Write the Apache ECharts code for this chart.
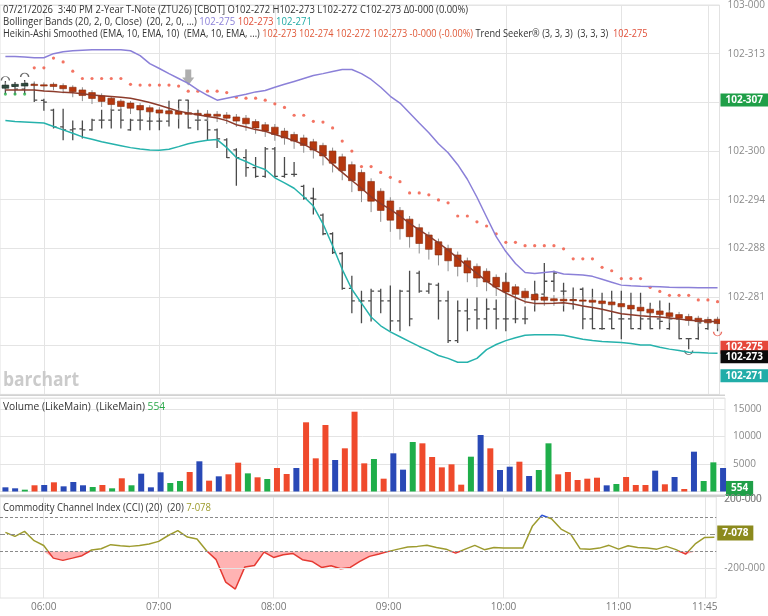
<!DOCTYPE html>
<html><head><meta charset="utf-8">
<script src="https://cdn.jsdelivr.net/npm/echarts@6/dist/echarts.min.js"></script>
<style>html,body{margin:0;padding:0;background:#fff}#c{width:768px;height:616px}</style>
</head><body><div id="c"></div>
<script>
const times = ['05:40','05:45','05:50','05:55','06:00','06:05','06:10','06:15','06:20','06:25','06:30','06:35','06:40','06:45','06:50','06:55','07:00','07:05','07:10','07:15','07:20','07:25','07:30','07:35','07:40','07:45','07:50','07:55','08:00','08:05','08:10','08:15','08:20','08:25','08:30','08:35','08:40','08:45','08:50','08:55','09:00','09:05','09:10','09:15','09:20','09:25','09:30','09:35','09:40','09:45','09:50','09:55','10:00','10:05','10:10','10:15','10:20','10:25','10:30','10:35','10:40','10:45','10:50','10:55','11:00','11:05','11:10','11:15','11:20','11:25','11:30','11:35','11:40','11:45','11:50'];
const timeTickLabels = ['06:00','07:00','08:00','09:00','10:00','11:00','11:45'];

const priceOpen = [102.9662,102.9666,102.9654,102.9674,102.9608,102.9568,102.9499,102.9487,102.9491,102.9487,
102.9527,102.9527,102.9568,102.9487,102.9527,102.9523,102.9523,102.9523,102.9564,102.9609,
102.9527,102.9527,102.9487,102.9446,102.9405,102.9373,102.9332,102.9296,102.9409,102.9296,
102.9304,102.9255,102.9206,102.9137,102.9060,102.8979,102.8836,102.8784,102.8784,102.8824,
102.8784,102.8702,102.8824,102.8898,102.8824,102.8849,102.8784,102.8621,102.8743,102.8747,
102.8710,102.8751,102.8710,102.8710,102.8710,102.8800,102.8812,102.8865,102.8824,102.8788,
102.8832,102.8710,102.8670,102.8710,102.8710,102.8710,102.8670,102.8710,102.8710,102.8670,
102.8710,102.8629,102.8629,102.8670,102.8702];
const priceHigh = [102.9686,102.9682,102.9690,102.9678,102.9613,102.9572,102.9572,102.9523,102.9523,102.9531,
102.9568,102.9572,102.9572,102.9531,102.9568,102.9564,102.9556,102.9605,102.9609,102.9609,
102.9568,102.9556,102.9491,102.9450,102.9409,102.9405,102.9373,102.9414,102.9414,102.9373,
102.9353,102.9259,102.9247,102.9141,102.9064,102.8983,102.8885,102.8824,102.8832,102.8832,
102.8845,102.8828,102.8906,102.8906,102.8857,102.8857,102.8824,102.8784,102.8792,102.8796,
102.8792,102.8788,102.8898,102.8800,102.8759,102.8865,102.8938,102.8906,102.8857,102.8837,
102.8837,102.8832,102.8816,102.8824,102.8824,102.8816,102.8816,102.8775,102.8784,102.8775,
102.8710,102.8629,102.8710,102.8706,102.8702];
const priceLow = [102.9637,102.9633,102.9637,102.9604,102.9568,102.9495,102.9446,102.9446,102.9454,102.9485,
102.9495,102.9495,102.9495,102.9485,102.9487,102.9487,102.9487,102.9503,102.9495,102.9495,
102.9487,102.9446,102.9414,102.9373,102.9259,102.9296,102.9292,102.9292,102.9292,102.9292,
102.9296,102.9202,102.9141,102.9056,102.8979,102.8832,102.8735,102.8694,102.8702,102.8735,
102.8662,102.8662,102.8682,102.8820,102.8816,102.8710,102.8613,102.8613,102.8662,102.8670,
102.8670,102.8670,102.8662,102.8694,102.8690,102.8743,102.8784,102.8824,102.8743,102.8751,
102.8670,102.8670,102.8668,102.8670,102.8629,102.8670,102.8668,102.8670,102.8670,102.8668,
102.8629,102.8588,102.8627,102.8668,102.8662];
const priceClose = [102.9666,102.9654,102.9678,102.9609,102.9601,102.9499,102.9487,102.9491,102.9487,102.9527,
102.9527,102.9568,102.9527,102.9527,102.9527,102.9523,102.9523,102.9564,102.9609,102.9495,
102.9527,102.9487,102.9450,102.9373,102.9373,102.9332,102.9296,102.9409,102.9296,102.9304,
102.9304,102.9206,102.9202,102.9060,102.8983,102.8836,102.8784,102.8784,102.8824,102.8784,
102.8702,102.8824,102.8710,102.8824,102.8853,102.8784,102.8621,102.8743,102.8710,102.8710,
102.8751,102.8710,102.8710,102.8710,102.8710,102.8812,102.8865,102.8898,102.8824,102.8788,
102.8710,102.8670,102.8670,102.8670,102.8710,102.8670,102.8710,102.8670,102.8700,102.8710,
102.8629,102.8629,102.8694,102.8706,102.8694];

const haOpen = [102.9658,102.9665,102.9667,102.9674,102.9672,102.9674,102.9669,102.9662,102.9651,102.9640,
102.9626,102.9617,102.9605,102.9597,102.9587,102.9578,102.9569,102.9565,102.9563,102.9557,
102.9555,102.9552,102.9551,102.9548,102.9540,102.9535,102.9521,102.9508,102.9498,102.9482,
102.9468,102.9454,102.9438,102.9423,102.9400,102.9376,102.9344,102.9312,102.9275,102.9235,
102.9195,102.9156,102.9120,102.9085,102.9055,102.9027,102.9000,102.8973,102.8949,102.8926,
102.8906,102.8881,102.8861,102.8842,102.8824,102.8811,102.8800,102.8793,102.8791,102.8790,
102.8788,102.8787,102.8784,102.8780,102.8773,102.8766,102.8758,102.8750,102.8743,102.8735,
102.8728,102.8720,102.8713,102.8708,102.8709];
const haHigh = [102.9682,102.9682,102.9686,102.9686,102.9682,102.9682,102.9678,102.9670,102.9662,102.9650,
102.9637,102.9625,102.9613,102.9605,102.9597,102.9588,102.9580,102.9580,102.9576,102.9572,
102.9568,102.9568,102.9564,102.9560,102.9552,102.9548,102.9531,102.9519,102.9511,102.9495,
102.9479,102.9467,102.9450,102.9434,102.9414,102.9389,102.9357,102.9324,102.9288,102.9247,
102.9210,102.9170,102.9133,102.9101,102.9068,102.9040,102.9015,102.8987,102.8962,102.8938,
102.8918,102.8893,102.8873,102.8853,102.8837,102.8824,102.8816,102.8808,102.8808,102.8804,
102.8804,102.8800,102.8796,102.8792,102.8788,102.8780,102.8772,102.8764,102.8755,102.8747,
102.8739,102.8731,102.8723,102.8719,102.8719];
const haLow = [102.9650,102.9654,102.9658,102.9654,102.9645,102.9650,102.9637,102.9621,102.9605,102.9593,
102.9581,102.9568,102.9560,102.9552,102.9548,102.9540,102.9536,102.9536,102.9531,102.9531,
102.9527,102.9523,102.9519,102.9511,102.9499,102.9483,102.9471,102.9458,102.9442,102.9426,
102.9409,102.9393,102.9369,102.9341,102.9312,102.9280,102.9231,102.9190,102.9149,102.9109,
102.9068,102.9036,102.9003,102.8979,102.8954,102.8930,102.8906,102.8885,102.8861,102.8841,
102.8824,102.8804,102.8788,102.8784,102.8772,102.8764,102.8764,102.8764,102.8764,102.8764,
102.8760,102.8755,102.8747,102.8743,102.8735,102.8727,102.8719,102.8711,102.8702,102.8694,
102.8690,102.8682,102.8678,102.8674,102.8670];
const haClose = [102.9671,102.9674,102.9678,102.9672,102.9670,102.9665,102.9656,102.9644,102.9628,102.9616,
102.9604,102.9591,102.9583,102.9576,102.9569,102.9561,102.9556,102.9553,102.9551,102.9551,
102.9548,102.9544,102.9543,102.9535,102.9523,102.9512,102.9495,102.9482,102.9468,102.9454,
102.9441,102.9423,102.9404,102.9380,102.9350,102.9319,102.9278,102.9237,102.9194,102.9156,
102.9116,102.9081,102.9048,102.9020,102.8996,102.8973,102.8949,102.8926,102.8899,102.8878,
102.8862,102.8841,102.8821,102.8811,102.8797,102.8788,102.8787,102.8785,102.8784,102.8786,
102.8784,102.8779,102.8773,102.8768,102.8760,102.8751,102.8743,102.8735,102.8728,102.8720,
102.8713,102.8705,102.8699,102.8694,102.8691];

const bbUpper = [102.9788,102.9788,102.9786,102.9783,102.9783,102.9800,102.9808,102.9812,102.9814,102.9816,
102.9816,102.9816,102.9816,102.9812,102.9792,102.9759,102.9739,102.9718,102.9698,102.9678,
102.9651,102.9629,102.9609,102.9617,102.9625,102.9633,102.9643,102.9649,102.9662,102.9674,
102.9686,102.9698,102.9710,102.9718,102.9727,102.9735,102.9735,102.9718,102.9694,102.9662,
102.9625,102.9597,102.9556,102.9515,102.9475,102.9430,102.9393,102.9344,102.9284,102.9210,
102.9129,102.9048,102.8987,102.8938,102.8901,102.8897,102.8901,102.8905,102.8895,102.8893,
102.8891,102.8885,102.8873,102.8861,102.8849,102.8846,102.8844,102.8843,102.8842,102.8840,
102.8839,102.8839,102.8838,102.8838,102.8838];
const bbMiddle = [102.9651,102.9651,102.9651,102.9651,102.9647,102.9645,102.9641,102.9639,102.9635,102.9630,
102.9627,102.9624,102.9621,102.9617,102.9609,102.9599,102.9588,102.9576,102.9564,102.9556,
102.9549,102.9542,102.9536,102.9525,102.9508,102.9499,102.9488,102.9481,102.9468,102.9456,
102.9442,102.9427,102.9407,102.9385,102.9346,102.9312,102.9279,102.9247,102.9212,102.9184,
102.9160,102.9133,102.9103,102.9076,102.9050,102.9023,102.8993,102.8960,102.8928,102.8897,
102.8865,102.8838,102.8816,102.8798,102.8781,102.8774,102.8774,102.8775,102.8777,102.8771,
102.8763,102.8757,102.8750,102.8741,102.8731,102.8727,102.8723,102.8720,102.8718,102.8714,
102.8710,102.8705,102.8703,102.8701,102.8699];
const bbLower = [102.9525,102.9521,102.9519,102.9517,102.9515,102.9501,102.9487,102.9473,102.9458,102.9448,
102.9438,102.9430,102.9422,102.9414,102.9408,102.9404,102.9403,102.9407,102.9418,102.9430,
102.9438,102.9444,102.9447,102.9414,102.9373,102.9357,102.9338,102.9324,102.9290,102.9269,
102.9247,102.9212,102.9174,102.9101,102.9011,102.8914,102.8832,102.8775,102.8718,102.8682,
102.8657,102.8637,102.8617,102.8597,102.8580,102.8560,102.8548,102.8532,102.8532,102.8548,
102.8584,102.8605,102.8621,102.8633,102.8643,102.8645,102.8645,102.8645,102.8643,102.8635,
102.8627,102.8621,102.8617,102.8615,102.8613,102.8609,102.8603,102.8603,102.8594,102.8586,
102.8580,102.8573,102.8572,102.8570,102.8569];

const trendStop = [102.9634,102.9634,102.9634,102.9742,102.9742,102.9782,102.9766,102.9728,102.9698,102.9698,
102.9698,102.9698,102.9698,102.9674,102.9671,102.9671,102.9671,102.9671,102.9667,102.9646,
102.9646,102.9646,102.9646,102.9640,102.9621,102.9617,102.9617,102.9609,102.9594,102.9579,
102.9547,102.9547,102.9522,102.9519,102.9495,102.9441,102.9400,102.9336,102.9336,102.9312,
102.9292,102.9274,102.9228,102.9228,102.9220,102.9199,102.9187,102.9133,102.9133,102.9109,
102.9092,102.9060,102.9025,102.9025,102.9011,102.9011,102.9011,102.9011,102.8998,102.8957,
102.8957,102.8957,102.8922,102.8908,102.8876,102.8876,102.8876,102.8840,102.8823,102.8807,
102.8807,102.8807,102.8788,102.8788,102.8781];
const trendLongBars = 3;

const signalBar = [19];
const signalPrice = [102.9702];
const pivotHighBar = [0, 2];
const pivotHighPrice = [102.9698, 102.9712];
const pivotLowBar = [71, 74];
const pivotLowPrice = [102.8572, 102.8649];

const volume = [760,580,330,1130,1180,1670,940,1730,1130,820,1180,580,2400,1130,3240,760,3490,1550,1910,3550,
5490,1970,2760,3130,5240,3300,2580,2270,4270,3180,4270,12580,6030,12090,5730,7850,14510,5120,5910,2330,
6940,3970,9000,8760,6270,4390,4940,1240,6330,10270,7850,3910,4510,5420,2820,3910,8760,3120,3550,2090,
2330,2510,1120,1360,2640,1180,1180,3790,1310,2640,450,7240,1910,5300,4270];
const volumeKind = ['b','b','g','r','b','r','b','b','b','g','r','g','r','g','b','b','b','g','g','r',
'b','r','b','r','r','g','r','g','r','r','b','r','r','r','b','r','r','r','g','r',
'b','b','g','r','r','r','r','r','g','b','r','b','b','r','b','g','g','r','r','r',
'r','r','b','g','r','r','r','b','r','b','r','b','g','g','b'];

const cci = [10,-13,16,-38,-66,-139,-152,-139,-125,-92,
-85,-61,-67,-71,-66,-57,-42,-8,20,-17,
-28,-96,-148,-278,-318,-190,-182,-104,-135,-119,
-112,-148,-158,-193,-183,-201,-193,-158,-129,-115,
-100,-87,-75,-71,-65,-77,-87,-110,-87,-65,
-90,-77,-81,-81,-81,45,109,89,29,0,
-85,-87,-81,-65,-87,-67,-77,-81,-87,-71,
-90,-116,-57,-19,-18];
const cciLevels = [100, 0, -100, -200];
const cciTickValues = [-200, 200];

const tagGreen = 102.9609375, tagTrend = 102.859375, tagClose = 102.85546875, tagLower = 102.84765625;
const volumeLast = 554;
const cciLast = 7.078;

const FONT = '"Open Sans",sans-serif';

function fmt32(v){
  const neg = v < 0; v = Math.abs(v);
  const ip = Math.floor(v + 1e-9);
  const f = (v - ip) * 32;
  const whole = Math.floor(f + 1e-7);
  const dec = Math.floor((f - whole) * 10 + 1e-5);
  return (neg ? '-' : '') + ip + '-' + String(whole).padStart(2, '0') + dec;
}

const chart = echarts.init(document.getElementById('c'));
const tickIdx = timeTickLabels.map(t => times.indexOf(t));
const XMIN = -0.56, XMAX = 74.2;
const volColors = {r:'#ef4a2c', b:'#2949b6', g:'#1fae4a'};

function xAxisFor(gi, showLabel){
  return {type:'value', gridIndex:gi, min:XMIN, max:XMAX,
    axisLine:{show:false}, axisTick:{show:false, customValues:tickIdx},
    axisLabel:{show:showLabel, customValues:tickIdx, formatter:v => times[Math.round(v)],
      color:'#777', fontSize:10, fontFamily:FONT, margin:4},
    splitLine:{show:true, lineStyle:{color:'#e4e4e4', width:1}}};
}

function renderOHLC(params, api){
  const i = api.value(0);
  const o = api.coord([i, api.value(1)]), h = api.coord([i, api.value(2)]);
  const l = api.coord([i, api.value(3)]), c = api.coord([i, api.value(4)]);
  const x = o[0], w = 3;
  const mk = () => ({stroke:'#4a4a4a', lineWidth:1.3});
  return {type:'group', children:[
    {type:'line', shape:{x1:x, y1:h[1]-0.5, x2:x, y2:l[1]+0.5}, style:mk()},
    {type:'line', shape:{x1:x-w, y1:o[1], x2:x, y2:o[1]}, style:mk()},
    {type:'line', shape:{x1:x, y1:c[1], x2:x+w, y2:c[1]}, style:mk()}
  ]};
}
function renderHA(params, api){
  const i = api.value(0), O = api.value(1), C = api.value(4);
  const o = api.coord([i, O]), h = api.coord([i, api.value(2)]);
  const l = api.coord([i, api.value(3)]), c = api.coord([i, C]);
  const bw = api.size([1, 0])[0] * 0.7, x = o[0];
  const top = Math.min(o[1], c[1]), ht = Math.max(1.2, Math.abs(o[1] - c[1]));
  const bear = C < O;
  return {type:'group', children:[
    {type:'line', shape:{x1:x, y1:h[1], x2:x, y2:l[1]}, style:{stroke:'#8c8c8c', lineWidth:1}},
    {type:'rect', shape:{x:x-bw/2, y:top, width:bw, height:ht},
      style:{fill: bear ? '#b5380f' : '#2f4a3e', stroke: bear ? '#862a0c' : '#1f2f28', lineWidth:0.6}}
  ]};
}

const idx = times.map((t, i) => i);
const tagLabel = (bg) => ({show:true, position:'end', distance:1, color:'#fff', fontWeight:'bold',
  fontSize:10, fontFamily:FONT, backgroundColor:bg, padding:[2,5,1,5]});
const hiddenLine = {width:0, color:'rgba(0,0,0,0)'};
const txt = (left, top, sx, style) => ({type:'text', z:60, left:left, top:top, scaleX:sx, silent:true, style:style});

const option = {
  backgroundColor:'#fff',
  animation:false,
  grid:[
    {left:0, right:43, top:1, height:393.4, show:true, borderColor:'#e2e2e2', borderWidth:1},
    {left:0, right:43, top:398, height:93.5, show:true, borderColor:'#e2e2e2', borderWidth:1},
    {left:0, right:43, top:497, height:101, show:true, borderColor:'#e2e2e2', borderWidth:1}
  ],
  xAxis:[xAxisFor(0,false), xAxisFor(1,false), xAxisFor(2,true)],
  yAxis:[
    {type:'value', gridIndex:0, position:'right', min:102.84, max:103.00, interval:0.02,
      axisLine:{show:false}, axisTick:{show:false},
      axisLabel:{formatter:fmt32, color:'#8a8a8a', fontSize:10, fontFamily:FONT, margin:8, showMinLabel:false},
      splitLine:{lineStyle:{color:'#e4e4e4'}}},
    {type:'value', gridIndex:1, position:'right', min:0, max:17000, interval:5000,
      axisLine:{show:false}, axisTick:{show:false},
      axisLabel:{formatter:v => (v > 0 && v % 5000 === 0) ? String(v) : '', color:'#8a8a8a', fontSize:10, fontFamily:FONT, margin:8},
      splitLine:{lineStyle:{color:'#e4e4e4'}}},
    {type:'value', gridIndex:2, position:'right', min:-370, max:215,
      axisLine:{show:false}, axisTick:{show:false, customValues:cciTickValues},
      axisLabel:{customValues:cciTickValues, formatter:fmt32, color:'#8a8a8a', fontSize:10, fontFamily:FONT, margin:8,
        showMinLabel:true, showMaxLabel:true},
      splitLine:{show:false}}
  ],
  visualMap:[{type:'piecewise', show:false, seriesIndex:15, dimension:1,
    pieces:[{lt:-100, color:'#e53a32'}, {gte:-100, lte:100, color:'#9d9b2e'}, {gt:100, color:'#2f55d6'}]}],
  series:[
    {name:'bbBase', type:'line', xAxisIndex:0, yAxisIndex:0, stack:'bb', symbol:'none', silent:true,
      lineStyle:{width:0, opacity:0}, data: idx.map(i => [i, bbLower[i]])},
    {name:'bbFill', type:'line', xAxisIndex:0, yAxisIndex:0, stack:'bb', symbol:'none', silent:true,
      lineStyle:{width:0, opacity:0}, areaStyle:{color:'rgba(168,224,228,0.36)'},
      data: idx.map(i => [i, bbUpper[i] - bbLower[i]])},
    {name:'bbUpper', type:'line', xAxisIndex:0, yAxisIndex:0, symbol:'none', silent:true,
      lineStyle:{color:'#8b80d8', width:1.5}, data: idx.map(i => [i, bbUpper[i]])},
    {name:'bbLower', type:'line', xAxisIndex:0, yAxisIndex:0, symbol:'none', silent:true,
      lineStyle:{color:'#26b2ac', width:1.5}, data: idx.map(i => [i, bbLower[i]])},
    {name:'price', type:'custom', xAxisIndex:0, yAxisIndex:0, clip:true, renderItem:renderOHLC,
      encode:{x:0, y:[1,2,3,4]}, data: idx.map(i => [i, priceOpen[i], priceHigh[i], priceLow[i], priceClose[i]])},
    {name:'ha', type:'custom', xAxisIndex:0, yAxisIndex:0, clip:true, renderItem:renderHA,
      encode:{x:0, y:[1,2,3,4]}, data: idx.map(i => [i, haOpen[i], haHigh[i], haLow[i], haClose[i]])},
    {name:'bbMiddle', type:'line', xAxisIndex:0, yAxisIndex:0, symbol:'none', silent:true,
      lineStyle:{color:'#8c3b2b', width:1.5}, data: idx.map(i => [i, bbMiddle[i]]),
      markLine:{symbol:'none', silent:true, precision:8, lineStyle:hiddenLine, data:[
        {yAxis:tagGreen, label:Object.assign(tagLabel('#1f9f48'), {formatter:fmt32(tagGreen)})},
        {yAxis:tagTrend, label:Object.assign(tagLabel('#e5473a'), {formatter:fmt32(tagTrend)})},
        {yAxis:tagClose, label:Object.assign(tagLabel('#0a0a0a'), {formatter:fmt32(tagClose)})},
        {yAxis:tagLower, label:Object.assign(tagLabel('#21ada8'), {formatter:fmt32(tagLower)})}
      ]}},
    {name:'trendLong', type:'scatter', xAxisIndex:0, yAxisIndex:0, symbolSize:3.2, silent:true,
      itemStyle:{color:'#2bb24c'}, data: idx.filter(i => i < trendLongBars).map(i => [i, trendStop[i]])},
    {name:'trendShort', type:'scatter', xAxisIndex:0, yAxisIndex:0, symbolSize:3.2, silent:true,
      itemStyle:{color:'#f0513c'}, data: idx.filter(i => i >= trendLongBars).map(i => [i, trendStop[i]])},
    {name:'signal', type:'scatter', xAxisIndex:0, yAxisIndex:0, silent:true,
      symbol:'path://M3,0 L9,0 L9,8 L12,8 L6,16 L0,8 L3,8 Z', symbolSize:[12,16],
      itemStyle:{color:'#9a9a9a'}, data: signalBar.map((b, k) => [b, signalPrice[k]])},
    {name:'pivotHigh', type:'scatter', xAxisIndex:0, yAxisIndex:0, silent:true,
      symbol:'path://M0,10 A10,10 0 0 1 20,10', symbolSize:[8,4],
      itemStyle:{color:'rgba(0,0,0,0)', borderColor:'#444', borderWidth:1},
      data: pivotHighBar.map((b, k) => [b, pivotHighPrice[k]])},
    {name:'pivotLow', type:'scatter', xAxisIndex:0, yAxisIndex:0, silent:true,
      symbol:'path://M0,0 A10,10 0 0 0 20,0', symbolSize:[8,4],
      itemStyle:{color:'rgba(0,0,0,0)', borderColor:'#444', borderWidth:1},
      data: pivotLowBar.map((b, k) => ({value:[b, pivotLowPrice[k]], itemStyle:{borderColor: k === 1 ? '#e5473a' : '#444'}}))},
    {name:'volume', type:'bar', xAxisIndex:1, yAxisIndex:1, barWidth:6, silent:true,
      data: idx.map(i => ({value:[i, volume[i]], itemStyle:{color:volColors[volumeKind[i]]}})),
      markLine:{symbol:'none', silent:true, precision:4, lineStyle:hiddenLine, data:[
        {yAxis:volumeLast, label:Object.assign(tagLabel('#1f9f48'), {formatter:String(volumeLast), padding:[3,5,2,5]})}]}},
    {name:'cciFill', type:'line', xAxisIndex:2, yAxisIndex:2, symbol:'none', silent:true,
      lineStyle:{width:0, opacity:0}, areaStyle:{color:'#ffb3b3', opacity:1, origin:-100},
      data: idx.map(i => [i, Math.min(cci[i], -100)])},
    {name:'cciLevels', type:'line', xAxisIndex:2, yAxisIndex:2, symbol:'none', silent:true, data:[],
      markLine:{symbol:'none', silent:true, label:{show:false}, data:[
        {yAxis:cciLevels[0], lineStyle:{color:'#8a8a8a', type:[3,2], width:1}},
        {yAxis:cciLevels[1], lineStyle:{color:'#8a8a8a', type:[5,2,1,2], width:1}},
        {yAxis:cciLevels[2], lineStyle:{color:'#8a8a8a', type:[3,2], width:1}},
        {yAxis:cciLevels[3], lineStyle:{color:'#e4e4e4', type:'solid', width:1}},
        {yAxis:cciTickValues[1], lineStyle:hiddenLine,
          label:{show:true, position:'end', distance:8, formatter:fmt32(cciTickValues[1]), color:'#8a8a8a', fontSize:10, fontFamily:FONT}}
      ]}},
    {name:'cci', type:'line', xAxisIndex:2, yAxisIndex:2, symbol:'none', silent:true,
      lineStyle:{width:1.5}, data: idx.map(i => [i, cci[i]]),
      markLine:{symbol:'none', silent:true, precision:4, lineStyle:hiddenLine, data:[
        {yAxis:cciLast, label:Object.assign(tagLabel('#8b8a1d'), {formatter:'7-078', padding:[3,5,2,5]})}]}}
  ],
  graphic:[
    {type:'rect', z:50, silent:true, shape:{x:0, y:394.5, width:725, height:1.5}, style:{fill:'#d2d2d2'}},
    {type:'rect', z:50, silent:true, shape:{x:0, y:494.5, width:725, height:2.5}, style:{fill:'#cdcdcd'}},
    {type:'text', z:40, left:3, top:371, scaleX:0.92, silent:true, style:{text:'barchart', font:'bold 19px ' + FONT, fill:'#cbcbcb'}},
    txt(3, 4, 0.856, {font:'11px ' + FONT, fill:'#333',
      text:'07/21/2026  3:40 PM 2-Year T-Note (ZTU26) [CBOT] O102-272 H102-273 L102-272 C102-273 \u03940-000 (0.00%)'}),
    txt(3, 16, 0.87, {font:'11px ' + FONT, fill:'#333',
      text:'{a|Bollinger Bands (20, 2, 0, Close)  (20, 2, 0, ...) }{p|102-275} {r|102-273} {t|102-271}',
      rich:{a:{fill:'#333'}, p:{fill:'#8b80d8'}, r:{fill:'#e0503a'}, t:{fill:'#21aba5'}}}),
    txt(3, 28, 0.835, {font:'11px ' + FONT, fill:'#333',
      text:'{a|Heikin-Ashi Smoothed (EMA, 10, EMA, 10)  (EMA, 10, EMA, ...) }{h|102-273 102-274 102-272 102-273 -0-000 (-0.00%)}{a| Trend Seeker\u00ae (3, 3, 3)  (3, 3, 3)  }{r|102-275}',
      rich:{a:{fill:'#333'}, h:{fill:'#e05a3a'}, r:{fill:'#e0503a'}}}),
    txt(3, 401, 0.93, {font:'11px ' + FONT, fill:'#333',
      text:'{a|Volume (LikeMain)  (LikeMain) }{g|554}', rich:{a:{fill:'#333'}, g:{fill:'#2aa84a'}}}),
    txt(3, 502, 0.865, {font:'11px ' + FONT, fill:'#333',
      text:'{a|Commodity Channel Index (CCI) (20)  (20) }{o|7-078}', rich:{a:{fill:'#333'}, o:{fill:'#9d9b2e'}}})
  ]
};
chart.setOption(option);
</script></body></html>
